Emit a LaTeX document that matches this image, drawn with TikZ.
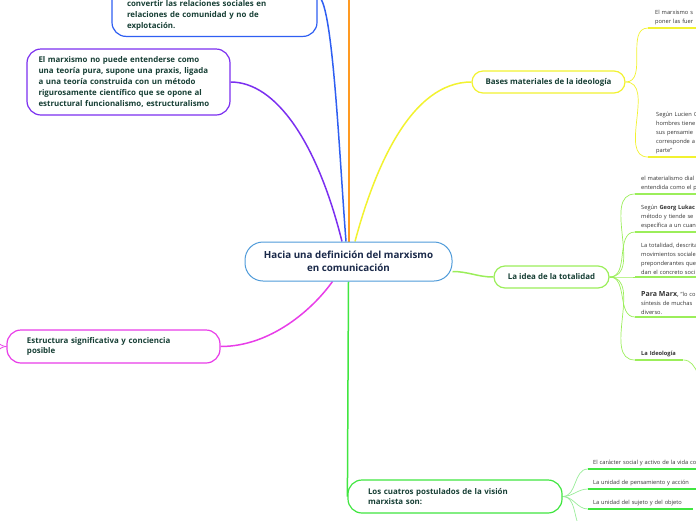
\documentclass[tikz,border=0pt]{standalone}
\usepackage{fontspec}
\setmainfont{Open Sans}
\usepackage{xcolor}
\definecolor{centroazul}{HTML}{4F9BD9}
\definecolor{centrotxt}{HTML}{1B2A4A}
\definecolor{ramatxt}{HTML}{173F35}
\definecolor{hojatxt}{HTML}{333333}
\definecolor{azulrama}{HTML}{2F5FF2}
\definecolor{violeta}{HTML}{7B2FF0}
\definecolor{fucsia}{HTML}{E83DE8}
\definecolor{naranja}{HTML}{FF9A22}
\definecolor{amarillo}{HTML}{F2F230}
\definecolor{verde}{HTML}{40E640}
\definecolor{verdeclaro}{HTML}{9BEE5A}
\definecolor{verdehoja}{HTML}{98EC98}
\usepackage{tikz}
\usetikzlibrary{positioning,backgrounds}

\begin{document}
\begin{tikzpicture}[x=1pt,y=-1pt,
  centro/.style={draw=centroazul,line width=1pt,fill=white,rounded corners=18pt,
                 minimum width=207pt,minimum height=39pt,align=center,
                 font=\fontsize{9.8}{13}\selectfont\bfseries,text=centrotxt},
  rama/.style={draw,line width=1.2pt,fill=white,rounded corners=14pt,
               font=\fontsize{7.9}{10.8}\selectfont\bfseries,text=ramatxt,align=left},
  hoja/.style={anchor=south west,align=left,inner xsep=6pt,inner ysep=2.5pt,
               font=\fontsize{5.7}{9}\selectfont,text=hojatxt},
  enlace/.style={line width=1.5pt},
  fino/.style={line width=0.7pt},
  subr/.style={line width=2pt}
]
\useasboundingbox (0,0) rectangle (696,520);
\clip (0,0) rectangle (696,520);

% Nodo central
\node[centro] (cen) at (348.5,261.5) {Hacia una definición del marxismo\\en comunicación};

% Ramas (izquierda)
\node[rama,draw=azulrama,text width=175pt,inner xsep=15pt,inner ysep=6pt,
      text height=45pt,anchor=south] (conv) at (214.5,37)
  {convertir las relaciones sociales en\\relaciones de comunidad y no de\\explotación.};
\node[rama,draw=violeta,text width=180pt,inner xsep=11.5pt,minimum height=66pt] (praxis) at (128.5,82)
  {El marxismo no puede entenderse como\\una teoría pura, supone una praxis, ligada\\a una teoría construida con un método\\rigurosamente científico que se opone al\\estructural funcionalismo, estructuralismo};
\node[rama,draw=fucsia,text width=173pt,inner xsep=20pt,minimum height=33pt] (estruc) at (113.5,346.5)
  {Estructura significativa y conciencia\\posible};

% Ramas (derecha)
\node[rama,draw=amarillo,align=center,minimum width=153pt,minimum height=22pt,
      rounded corners=11pt] (bases) at (548.5,82) {Bases materiales de la ideología};
\node[rama,draw=verdeclaro,align=center,minimum width=115pt,minimum height=22pt,
      rounded corners=11pt] (total) at (551.5,277) {La idea de la totalidad};
\node[rama,draw=verde,text width=174pt,inner xsep=20pt,minimum height=33pt] (postu) at (455,496.5)
  {Los cuatros postulados de la visión\\marxista son:};

% Hojas: bases materiales
\node[hoja,text width=80pt,inner xsep=7pt] (b1) at (648,28) {El marxismo s\\poner las fuer};
\node[hoja,text width=80pt,inner xsep=8pt] (b2) at (648,157)
  {Según Lucien G\\hombres tiene\\sus pensamie\\corresponde a\\parte"};

% Hojas: totalidad
\node[hoja,text width=90pt] (t1) at (635,194) {el materialismo dial\\entendida como el p};
\node[hoja,text width=90pt] (t2) at (635,232) {Según \textbf{Georg Lukac}\\método y tiende se\\específica a un cuan};
\node[hoja,text width=90pt] (t3) at (635,277)
  {La totalidad, descrita\\movimientos sociale\\preponderantes que\\dan el concreto soci};
\node[hoja,text width=90pt] (t4) at (635,317)
  {{\fontsize{7}{9}\selectfont\textbf{Para Marx},} "lo co\\síntesis de muchas\\diverso.};
\node[hoja,text width=36pt] (t5) at (635,360) {\textbf{La Ideología}};

% Hojas: postulados
\node[hoja,text width=130pt,inner xsep=5pt] (p1) at (588,469) {El carácter social y activo de la vida co};
\node[hoja,text width=120pt,inner xsep=5pt] (p2) at (588,489) {La unidad de pensamiento y acción};
\node[hoja,text width=95pt,inner xsep=5pt] (p3) at (588,509) {La unidad del sujeto y del objeto};

% Extremos fuera del cuadro
\coordinate (arriba) at (349,-12);
\coordinate (izqA) at (-14,335);
\coordinate (izqB) at (-14,358);
\coordinate (p4) at (588,532);
\coordinate (ideo) at (712,386);

% Subrayados
\draw[subr,amarillo] (b1.south west) -- (b1.south east);
\draw[subr,amarillo] (b2.south west) -- (b2.south east);
\draw[subr,verdeclaro] (t1.south west) -- (t1.south east);
\draw[subr,verdeclaro] (t2.south west) -- (t2.south east);
\draw[subr,verdeclaro] (t3.south west) -- (t3.south east);
\draw[subr,verdeclaro] (t4.south west) -- (t4.south east);
\draw[subr,verdeclaro] (t5.south west) -- (t5.south east);
\draw[subr,verde] (p1.south west) -- (p1.south east);
\draw[subr,verde] (p2.south west) -- (p2.south east);
\draw[subr,verde] (p3.south west) -- (p3.south east);

\begin{pgfonlayer}{background}
  \clip (0,0) rectangle (696,520);
  % ramas principales
  \draw[enlace,naranja] ([xshift=0.5pt]cen.north) -- (arriba);
  \draw[enlace,azulrama] (conv.east) .. controls +(15,0) and +(-7,-90) .. ([xshift=-2.5pt]cen.north);
  \draw[enlace,violeta] (praxis.east) .. controls +(45,0) and +(-25,-100) .. ([xshift=-6.5pt]cen.north);
  \draw[enlace,amarillo] ([xshift=6.5pt]cen.north) .. controls +(20,-75) and +(-60,0) .. (bases.west);
  \draw[enlace,fucsia] ([xshift=-16pt]cen.south) .. controls +(-20,28) and +(50,0) .. (estruc.east);
  \draw[enlace,verde] (cen.south) -- (postu.west);
  \draw[enlace,verdeclaro] ([yshift=-10pt]cen.east) to[out=0,in=180] (total.west);
  % hijos fuera del cuadro
  \draw[fino,fucsia] (estruc.west) to[out=180,in=0] (izqA);
  \draw[fino,fucsia] (estruc.west) to[out=180,in=0] (izqB);
  % hojas
  \draw[fino,amarillo] (bases.east) to[out=0,in=180] (b1.south west);
  \draw[fino,amarillo] (bases.east) to[out=0,in=180] (b2.south west);
  \draw[fino,verdeclaro] (total.east) to[out=0,in=180] (t1.south west);
  \draw[fino,verdeclaro] (total.east) to[out=0,in=180] (t2.south west);
  \draw[fino,verdeclaro] (total.east) to[out=0,in=180] (t3.south west);
  \draw[fino,verdeclaro] (total.east) to[out=0,in=180] (t4.south west);
  \draw[fino,verdeclaro] (total.east) to[out=0,in=180] (t5.south west);
  \draw[fino,verdeclaro] (t5.south east) to[out=0,in=180] (ideo);
  \draw[fino,verdehoja] (postu.east) to[out=0,in=180] (p1.south west);
  \draw[fino,verdehoja] (postu.east) to[out=0,in=180] (p2.south west);
  \draw[fino,verdehoja] (postu.east) to[out=0,in=180] (p3.south west);
  \draw[fino,verdehoja] (postu.east) to[out=0,in=180] (p4);
\end{pgfonlayer}

\end{tikzpicture}
\end{document}
